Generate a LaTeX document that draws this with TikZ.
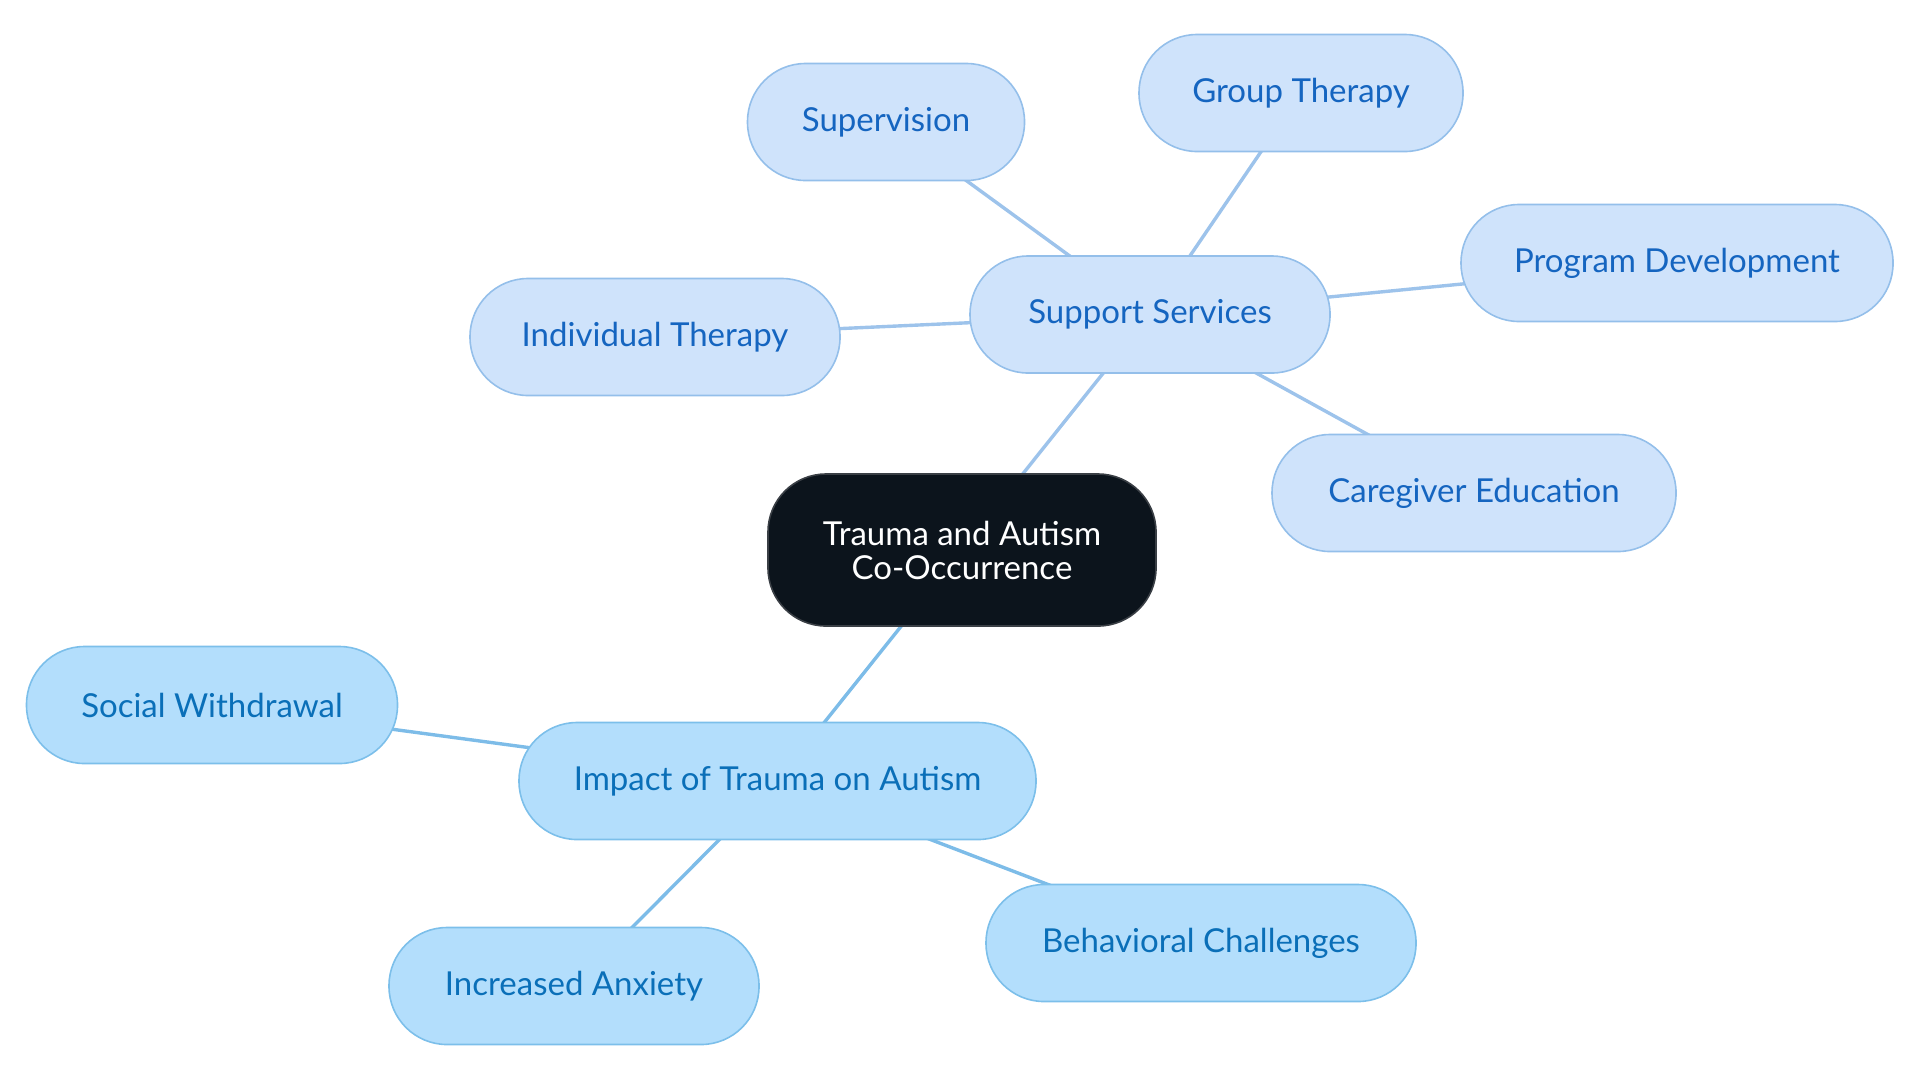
\documentclass[tikz,border=0pt]{standalone}
\usepackage{fontspec}
\setmainfont{Lato}
\usetikzlibrary{backgrounds}
\definecolor{rootfill}{HTML}{0C141C}
\definecolor{rootdraw}{HTML}{3A3F45}
\definecolor{supfill}{HTML}{CFE3FB}
\definecolor{supdraw}{HTML}{94BFEA}
\definecolor{suptext}{HTML}{1565C0}
\definecolor{impfill}{HTML}{B3DEFC}
\definecolor{impdraw}{HTML}{7CBFEA}
\definecolor{imptext}{HTML}{0A6FB8}
\definecolor{supline}{HTML}{9DC3EB}
\definecolor{impline}{HTML}{7DBCE8}
\tikzset{
  base/.style={rounded corners=29pt, minimum height=58.5pt, inner sep=0pt, line width=0.8pt, font=\fontsize{16.5}{17}\selectfont},
  rootnode/.style={base, fill=rootfill, draw=rootdraw, text=white, align=center, minimum height=76pt},
  supnode/.style={base, fill=supfill, draw=supdraw, text=suptext},
  impnode/.style={base, fill=impfill, draw=impdraw, text=imptext},
  supedge/.style={draw=supline, line width=1.7pt},
  impedge/.style={draw=impline, line width=1.7pt},
}
\begin{document}
\begin{tikzpicture}[x=0.5pt,y=-0.5pt]
\useasboundingbox (0,0) rectangle (1920,1083);
\node[rootnode, minimum width=194pt] (root) at (962,550) {Trauma and Autism\\Co-Occurrence};
\node[supnode, minimum width=180pt] (sup) at (1150,314.5) {Support Services};
\node[supnode, minimum width=138.5pt] (supv) at (886,122) {Supervision};
\node[supnode, minimum width=162pt] (grp) at (1301,93) {Group Therapy};
\node[supnode, minimum width=216pt] (prog) at (1677,263) {Program Development};
\node[supnode, minimum width=185pt] (ind) at (655,337) {Individual Therapy};
\node[supnode, minimum width=202pt] (care) at (1474,493) {Caregiver Education};
\node[impnode, minimum width=258.5pt] (imp) at (777.5,781) {Impact of Trauma on Autism};
\node[impnode, minimum width=185.5pt] (soc) at (212,705) {Social Withdrawal};
\node[impnode, minimum width=185pt] (anx) at (574,986) {Increased Anxiety};
\node[impnode, minimum width=215pt] (beh) at (1201,943) {Behavioral Challenges};
\begin{scope}[on background layer]
\path[supedge] (root.center) -- (sup.center);
\path[supedge] (sup.center) -- (supv.center);
\path[supedge] (sup.center) -- (grp.center);
\path[supedge] (sup.center) -- (prog.center);
\path[supedge] (sup.center) -- (ind.center);
\path[supedge] (sup.center) -- (care.center);
\path[impedge] (root.center) -- (imp.center);
\path[impedge] (imp.center) -- (soc.center);
\path[impedge] (imp.center) -- (anx.center);
\path[impedge] (imp.center) -- (beh.center);
\end{scope}
\end{tikzpicture}
\end{document}
